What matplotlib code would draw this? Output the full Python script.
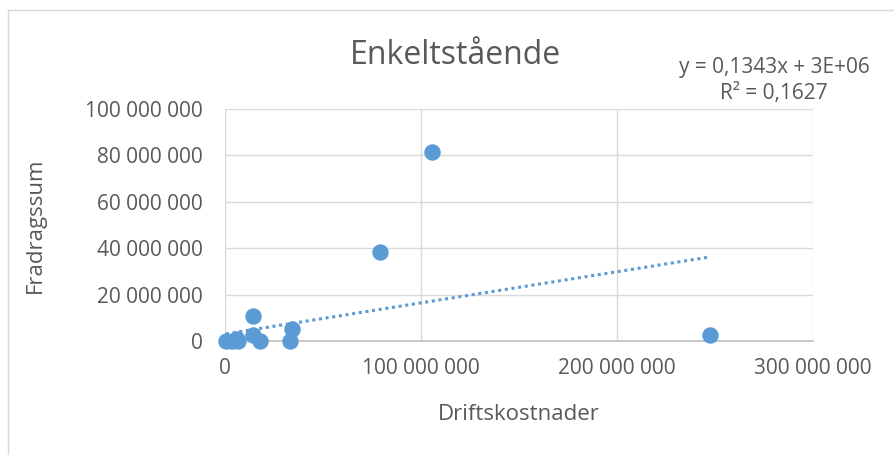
import matplotlib.pyplot as plt
from matplotlib.patches import Rectangle
from matplotlib.ticker import FuncFormatter

# driftskostnader (x) og fradragssum (y) per punkt
driftskostnader = [105.6e6, 79.1e6, 247.4e6, 14.3e6, 14.3e6, 17.9e6, 33.2e6, 34.2e6,
                   0.5e6, 3.6e6, 6.0e6, 6.6e6]
fradragssum = [81.5e6, 38.4e6, 2.6e6, 10.8e6, 2.6e6, 0.0, 0.0, 5.2e6,
               0.0, 0.0, 1.0e6, 0.0]
slope = 0.1343
intercept = 3e6
x_ticks = [0, 100e6, 200e6, 300e6]
y_ticks = [0, 20e6, 40e6, 60e6, 80e6, 100e6]

blue = '#5B9BD5'
grey = '#595959'
plt.rcParams['font.family'] = ['Open Sans', 'DejaVu Sans']

fig = plt.figure(figsize=(8.95, 4.55), dpi=100)
fig.patches.append(Rectangle((8 / 895, -0.1), 1.1, 1 - 10 / 455 + 0.1, transform=fig.transFigure,
                             fill=False, edgecolor='#d9d9d9', linewidth=1))
ax = fig.add_axes([225 / 895, 1 - 341 / 455, 588 / 895, 232 / 455])

ax.scatter(driftskostnader, fradragssum, s=140, color=blue, zorder=3, linewidths=0,
           clip_on=False)
x0, x1 = min(driftskostnader), max(driftskostnader)
ax.plot([x0, x1], [slope * x0 + intercept, slope * x1 + intercept], color=blue,
        linestyle=(0, (1, 1.2)), linewidth=2.2, zorder=2)

ax.set_xlim(0, 300e6)
ax.set_ylim(0, 100e6)
ax.set_xticks(x_ticks)
ax.set_yticks(y_ticks)

fmt = FuncFormatter(lambda v, p: f'{int(v):,}'.replace(',', ' '))
ax.xaxis.set_major_formatter(fmt)
ax.yaxis.set_major_formatter(fmt)
ax.tick_params(length=0, labelsize=15, colors=grey)
ax.tick_params(axis='y', pad=16)
ax.tick_params(axis='x', pad=12)
ax.grid(True, color='#d9d9d9', linewidth=1)
ax.set_axisbelow(True)
for s in ['top', 'right', 'left']:
    ax.spines[s].set_visible(False)
ax.spines['bottom'].set_color('#bfbfbf')
ax.spines['bottom'].set_linewidth(1.2)

ax.set_xlabel('Driftskostnader', fontsize=16, color=grey, labelpad=18)
ax.set_ylabel('Fradragssum', fontsize=16, color=grey, labelpad=28)
fig.text(455 / 895, 1 - 55 / 455, 'Enkeltstående', fontsize=23, color=grey,
         ha='center', va='center')
fig.text(774 / 895, 1 - 68 / 455, 'y = 0,1343x + 3E+06', fontsize=15, color=grey,
         ha='center', va='center')
fig.text(774 / 895, 1 - 93 / 455, 'R² = 0,1627', fontsize=15, color=grey,
         ha='center', va='center')

fig.savefig('out.png', dpi=100)
